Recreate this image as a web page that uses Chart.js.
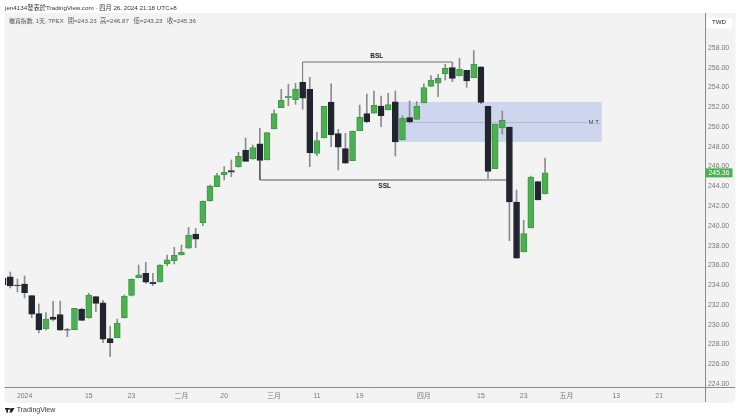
<!DOCTYPE html>
<html>
<head>
<meta charset="utf-8">
<style>
  html, body { margin: 0; padding: 0; background: #fff; overflow: hidden; }
  canvas { display: block; }
</style>
<script src="https://cdn.jsdelivr.net/npm/chart.js@4"></script>
</head>
<body>
<canvas id="myChart" width="740" height="419"></canvas>
<script>
const firstIndex = -1
const opens = [
  234.72, 234.85, 234.01, 234.11, 232.93, 231.11, 229.56, 230.77, 231.01, 229.49, 229.49,
  231.55, 230.67, 232.83, 232.22, 228.58, 228.68, 230.70, 232.97, 234.75, 235.20,
  234.29, 234.32, 236.14, 236.47, 237.05, 237.73, 239.17, 240.32, 242.54, 243.96,
  245.18, 245.58, 245.99, 247.65, 246.80, 248.31, 246.66, 249.80, 251.96, 252.97,
  252.77, 254.53, 253.82, 247.34, 248.89, 252.53, 249.33, 247.81, 246.59, 249.63,
  251.35, 251.39, 252.13, 251.73, 252.55, 248.69, 250.95, 250.78, 252.43, 254.12,
  254.43, 255.40, 256.01, 255.17, 255.74, 254.99, 256.08, 252.10, 245.78, 249.90,
  250.00, 242.41, 237.35, 239.78, 244.47, 243.23
]
const highs = [
  234.92, 235.33, 234.62, 234.93, 232.93, 232.09, 231.21, 232.36, 232.39, 229.63, 231.66,
  231.68, 233.17, 232.83, 232.46, 229.86, 230.57, 233.00, 234.62, 236.04, 236.31,
  235.20, 236.09, 237.05, 237.83, 238.06, 239.85, 239.75, 242.52, 244.13, 245.32,
  245.99, 246.66, 247.44, 248.89, 248.18, 249.87, 249.43, 251.73, 253.82, 254.33,
  254.43, 254.53, 255.03, 249.50, 252.10, 254.37, 249.77, 249.37, 249.60, 252.23,
  253.34, 253.65, 253.14, 253.41, 253.65, 251.12, 252.64, 252.57, 254.37, 255.20,
  255.34, 256.35, 256.58, 256.96, 255.74, 257.73, 256.08, 252.10, 250.31, 251.62,
  250.00, 243.63, 240.56, 245.04, 244.47, 246.87
]
const lows = [
  233.81, 233.71, 233.31, 232.70, 230.70, 229.16, 229.46, 230.37, 229.43, 228.78, 229.49,
  230.44, 230.64, 231.31, 228.17, 226.76, 228.68, 230.67, 232.90, 234.75, 234.18,
  233.94, 234.29, 235.94, 236.14, 237.05, 237.73, 237.79, 240.01, 242.48, 243.96,
  244.64, 244.97, 245.93, 246.53, 246.73, 246.63, 246.66, 249.80, 251.96, 252.16,
  252.30, 251.80, 245.99, 247.10, 248.89, 248.01, 245.65, 246.33, 246.59, 249.63,
  250.44, 251.39, 250.03, 251.73, 247.07, 248.69, 250.38, 250.78, 252.43, 254.12,
  253.07, 254.76, 254.59, 255.17, 254.02, 254.99, 252.36, 244.79, 245.78, 249.27,
  238.50, 236.72, 237.35, 239.78, 242.62, 243.23
]
const closes = [
  234.01, 233.91, 233.95, 233.23, 231.05, 229.46, 230.57, 230.54, 229.43, 229.43, 231.66,
  230.44, 233.00, 232.16, 228.52, 228.17, 230.14, 232.90, 234.59, 235.03, 234.29,
  234.15, 236.04, 236.57, 237.02, 237.32, 239.07, 238.64, 242.48, 244.06, 245.08,
  245.45, 245.42, 247.04, 246.53, 247.91, 246.63, 249.43, 251.35, 252.71, 253.11,
  253.85, 252.91, 247.40, 248.62, 252.10, 249.20, 247.95, 246.33, 249.60, 250.99,
  250.54, 252.20, 251.15, 252.26, 248.49, 250.89, 250.54, 252.10, 253.98, 254.76,
  254.93, 255.95, 254.93, 255.87, 254.66, 256.38, 252.50, 245.50, 250.31, 250.68,
  242.41, 236.72, 239.21, 244.91, 242.62, 245.36
]

const dateTicks = [2, 11, 17, 24, 30, 37, 43, 49, 58, 66, 72, 78, 85, 91]
const dateLabels = ['2024', '15', '23', '二月', '20', '三月', '11', '19', '四月', '15', '23', '五月', '13', '21']
const priceTicks = [224, 226, 228, 230, 232, 234, 236, 238, 240, 242, 244, 246, 248, 250, 252, 254, 256, 258]

const bslX = [41, 41, 62]
const bslY = [254.53, 256.58, 256.58]
const sslX = [35, 35, 70]
const sslY = [246.63, 244.64, 244.64]
const boxX = [54, 82.95]
const boxY = [252.53, 248.49]
const boxMid = 250.51
const boxMidEnd = 81

const title = 'jen4134發表於TradingView.com · 四月 26, 2024 21:18 UTC+8'
const legendName = '櫃買指數, 1天, TPEX'
const legendValues = ['開=243.23', '高=246.87', '低=243.23', '收=245.36']
const lastClose = closes[closes.length - 1]

const GREEN = '#4caf50'
const GREEN_EDGE = '#3d9a44'
const DARK = '#22252f'
const BG = '#f3f3f3'
const FONT = '"Liberation Sans", "Noto Sans CJK TC", sans-serif'

const xs = opens.map((_, i) => i + firstIndex)
const isUp = opens.map((o, i) => closes[i] >= o)

// page furniture and the drawings that sit under / over the candles
const drawings = {
  id: 'drawings',
  beforeDraw(chart) {
    const c = chart.ctx
    c.save()
    c.fillStyle = '#fff'
    c.fillRect(0, 0, 740, 419)
    c.fillStyle = BG
    c.beginPath()
    c.roundRect(4.5, 13, 731, 390, [0, 0, 5, 5])
    c.fill()
    c.restore()
  },
  beforeDatasetsDraw(chart) {
    const c = chart.ctx
    const x = chart.scales.x
    const y = chart.scales.y
    c.save()
    c.fillStyle = '#cdd6ec'
    const bx = x.getPixelForValue(boxX[0])
    const bw = x.getPixelForValue(boxX[1]) - bx
    const by = y.getPixelForValue(boxY[0])
    c.fillRect(bx, by, bw, y.getPixelForValue(boxY[1]) - by)
    c.strokeStyle = '#aeb8d2'
    c.lineWidth = 1
    const my = Math.round(y.getPixelForValue(boxMid)) + 0.5
    c.beginPath()
    c.moveTo(bx, my)
    c.lineTo(x.getPixelForValue(boxMidEnd), my)
    c.stroke()
    c.restore()
  },
  afterDraw(chart) {
    const c = chart.ctx
    const x = chart.scales.x
    const y = chart.scales.y
    c.save()
    c.textBaseline = 'middle'

    c.strokeStyle = '#8a8a8a'
    c.lineWidth = 1
    c.beginPath()
    c.moveTo(4.5, 387.5)
    c.lineTo(735, 387.5)
    c.moveTo(705.5, 13)
    c.lineTo(705.5, 402)
    c.stroke()

    c.fillStyle = '#333'
    c.font = '6.25px ' + FONT
    c.fillText(title, 5, 8)

    c.fillStyle = '#555'
    const legendPos = [67.7, 100, 133.5, 167]
    legendValues.forEach((t, i) => c.fillText(t, legendPos[i], 21))
    c.font = '5.9px ' + FONT
    c.fillText(legendName, 9, 21)

    // annotation texts
    c.textAlign = 'center'
    c.fillStyle = '#222'
    c.font = 'bold 6.5px ' + FONT
    c.fillText('BSL', x.getPixelForValue(51.4), y.getPixelForValue(257.2))
    c.fillText('SSL', x.getPixelForValue(52.5), y.getPixelForValue(244))
    c.font = '6px ' + FONT
    c.fillStyle = '#444'
    c.fillText('M.T.', x.getPixelForValue(81.9), y.getPixelForValue(boxMid))

    // TWD button
    c.fillStyle = '#fff'
    c.beginPath()
    c.roundRect(706.5, 18, 26, 10.5, 2)
    c.fill()
    c.fillStyle = '#222'
    c.font = '6.2px ' + FONT
    c.fillText('TWD', 719, 22.5)

    // last price tag
    const py = y.getPixelForValue(lastClose)
    c.fillStyle = GREEN
    c.fillRect(706, py - 4.5, 26.5, 9)
    c.fillStyle = '#fff'
    c.font = '6.9px ' + FONT
    c.fillText(lastClose.toFixed(2), 719, py + 0.5)

    // footer logo
    c.fillStyle = '#1e222d'
    c.fillRect(5, 408, 4, 1.6)
    c.fillRect(6.3, 408, 1.7, 4.6)
    c.beginPath()
    c.arc(10, 409, 1, 0, Math.PI * 2)
    c.fill()
    c.beginPath()
    c.moveTo(11.5, 408)
    c.lineTo(14.5, 408)
    c.lineTo(12, 412.6)
    c.lineTo(9.2, 412.6)
    c.fill()
    c.textAlign = 'left'
    c.fillStyle = '#3a3a3a'
    c.font = '7px ' + FONT
    c.fillText('TradingView', 16.7, 410.3)
    c.restore()
  }
}

const lineStyle = {
  type: 'line',
  pointRadius: 0,
  borderWidth: 1,
  tension: 0,
  order: 3
}

new Chart(document.getElementById('myChart'), {
  type: 'bar',
  data: {
    datasets: [
      {
        ...lineStyle,
        label: 'BSL',
        borderColor: '#6f6f6f',
        data: bslX.map((v, i) => ({ x: v, y: bslY[i] }))
      },
      {
        ...lineStyle,
        label: 'SSL',
        borderColor: '#5a5a5a',
        data: sslX.map((v, i) => ({ x: v, y: sslY[i] }))
      },
      {
        label: 'wick',
        grouped: false,
        order: 2,
        barThickness: 1,
        backgroundColor: '#8c8c8c',
        data: xs.map((v, i) => ({ x: v, y: [lows[i], highs[i]] }))
      },
      {
        label: 'body',
        grouped: false,
        order: 1,
        barThickness: 6,
        borderWidth: 1,
        borderSkipped: false,
        backgroundColor: isUp.map(u => u ? GREEN : DARK),
        borderColor: isUp.map(u => u ? GREEN_EDGE : DARK),
        data: xs.map((v, i) => ({ x: v, y: [opens[i], closes[i]] }))
      }
    ]
  },
  options: {
    responsive: false,
    animation: false,
    devicePixelRatio: 1,
    layout: { padding: { left: 5, right: 5, top: 13, bottom: 16 } },
    plugins: { legend: { display: false }, tooltip: { enabled: false } },
    scales: {
      x: {
        type: 'linear',
        offset: false,
        min: -0.743,
        max: 97.43,
        grid: { display: false, drawTicks: false },
        border: { display: false },
        afterFit(s) { s.height = 16 },
        afterBuildTicks(s) { s.ticks = dateTicks.map(v => ({ value: v })) },
        ticks: {
          autoSkip: false,
          maxRotation: 0,
          padding: 5,
          color: '#777',
          font: { size: 6.9, family: FONT },
          callback: v => dateLabels[dateTicks.indexOf(v)]
        }
      },
      y: {
        position: 'right',
        min: 223.69,
        max: 261.54,
        grid: { display: false, drawTicks: false },
        border: { display: false },
        afterFit(s) { s.width = 30 },
        afterBuildTicks(s) { s.ticks = priceTicks.map(v => ({ value: v })) },
        ticks: {
          padding: 3,
          color: '#777',
          font: { size: 6.9, family: FONT },
          callback: v => v.toFixed(2)
        }
      }
    }
  },
  plugins: [drawings]
})
</script>
</body>
</html>
